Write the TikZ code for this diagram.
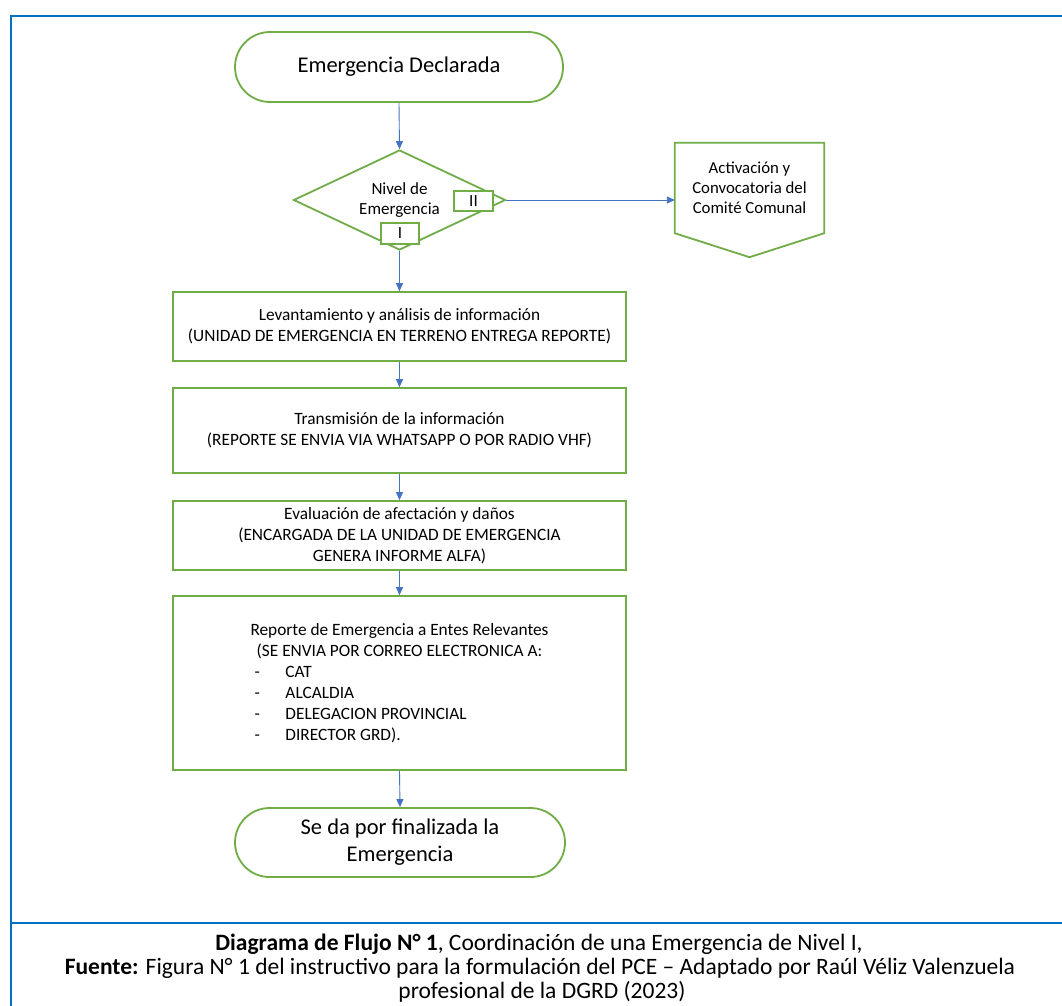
\documentclass[tikz,border=0pt]{standalone}
\usepackage{fontspec}
\setmainfont{Carlito}
\usetikzlibrary{shapes.geometric,shapes.misc,arrows.meta,calc}
\definecolor{grn}{HTML}{70AD47}
\definecolor{arw}{HTML}{4472C4}
\definecolor{frm}{HTML}{0070C0}
\newcommand\dashitem[1]{\makebox[300pt][l]{\hspace*{5pt}\makebox[31pt][l]{-}#1}}
\begin{document}
\begin{tikzpicture}[x=1pt,y=-1pt,
  term/.style={rounded rectangle, draw=grn, line width=1.8pt, inner sep=0pt, align=center, font=\fontsize{22.5}{27}\selectfont},
  procbox/.style={rectangle, draw=grn, line width=1.8pt, minimum width=453pt, inner sep=0pt, align=center, font=\fontsize{17.3}{21}\selectfont},
  decision/.style={diamond, aspect=2.12, draw=grn, line width=1.8pt, inner sep=0pt, minimum width=212pt, minimum height=100pt, align=center, font=\fontsize{17}{20}\selectfont},
  tag/.style={rectangle, draw=grn, fill=white, line width=1.8pt, inner sep=0pt, font=\fontsize{17}{20}\selectfont},
  grnline/.style={draw=grn, line width=1.8pt},
  flow/.style={draw=arw, line width=0.9pt, -{Triangle[length=8pt,width=7pt]}},
  frame/.style={draw=frm, line width=2.2pt},
  captxt/.style={anchor=base, inner sep=0pt, font=\fontsize{23.5}{25.5}\selectfont}]
\useasboundingbox (0,0) rectangle (1062,1005);
\fill[white] (0,0) rectangle (1062,1005);
% frame
\draw[frame] (11,1012) -- (11,16) -- (1070,16);
\draw[frame] (11,923) -- (1070,923);
% nodes
\node[term, minimum width=328pt, minimum height=70pt] (start) at (399,67) {Emergencia Declarada};
\node[decision] (dec) at (399.5,200) {Nivel de\\Emergencia};
\node[tag, minimum width=39pt, minimum height=20pt] (t2) at (473.5,201) {II};
\node[tag, minimum width=38pt, minimum height=21pt] (t1) at (400,233.5) {I};
\node[rectangle, minimum width=149pt, minimum height=90pt, inner sep=0pt, align=center, font=\fontsize{16.8}{20}\selectfont] (act) at (749.5,188) {Activación y\\Convocatoria del\\Comité Comunal};
\draw[grnline] (act.north west) -- (act.north east) -- (act.south east) -- ($(act.south)+(0,24)$) -- (act.south west) -- cycle;
\node[procbox, minimum height=69pt] (b1) at (399.5,326.5) {Levantamiento y análisis de información\\(UNIDAD DE EMERGENCIA EN TERRENO ENTREGA REPORTE)};
\node[procbox, minimum height=85pt] (b2) at (399.5,430.5) {Transmisión de la información\\(REPORTE SE ENVIA VIA WHATSAPP O POR RADIO VHF)};
\node[procbox, minimum height=69pt] (b3) at (399.5,535.5) {Evaluación de afectación y daños\\(ENCARGADA DE LA UNIDAD DE EMERGENCIA\\GENERA INFORME ALFA)};
\node[procbox, minimum height=174pt] (b4) at (399.5,683) {Reporte de Emergencia a Entes Relevantes\\(SE ENVIA POR CORREO ELECTRONICA A:\\\dashitem{CAT}\\\dashitem{ALCALDIA}\\\dashitem{DELEGACION PROVINCIAL}\\\dashitem{DIRECTOR GRD).}};
\node[term, minimum width=330pt, minimum height=69pt] (fin) at (400,842.5) {\raisebox{-2pt}{\parbox{200pt}{\centering Se da por finalizada la\\Emergencia}}};
% connectors
\draw[flow] (start.south) -- (dec.north);
\draw[flow] (dec.east) -- (dec.east -| act.west);
\draw[flow] (dec.south) -- (b1.north);
\draw[flow] (b1.south) -- (b2.north);
\draw[flow] (b2.south) -- (b3.north);
\draw[flow] (b3.south) -- (b4.north);
\draw[flow] (b4.south) -- (fin.north);
% caption
\node[captxt] (cap1) at (539,950) {\textbf{Diagrama de Flujo N° 1}, Coordinación de una Emergencia de Nivel I,};
\node[captxt] (cap2) at (540,974.5) {\textbf{Fuente:} Figura N° 1 del instructivo para la formulación del PCE – Adaptado por Raúl Véliz Valenzuela};
\node[captxt] (cap3) at (542,998.5) {profesional de la DGRD (2023)};
\end{tikzpicture}
\end{document}
